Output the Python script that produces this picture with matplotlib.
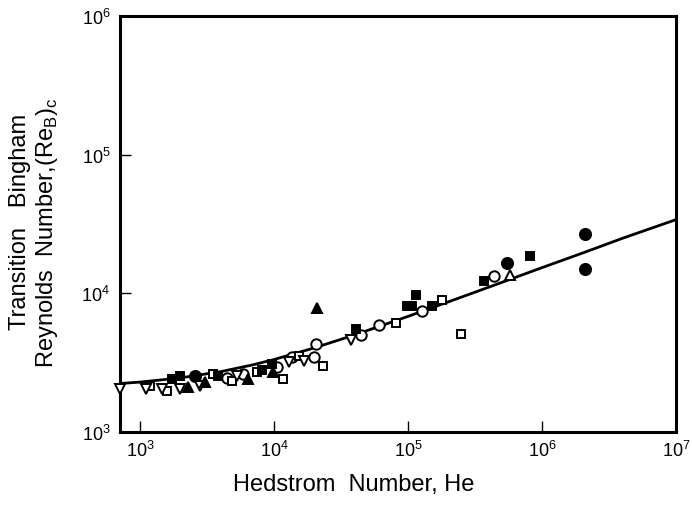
import matplotlib
matplotlib.use("Agg")
import matplotlib.pyplot as plt

plt.rcParams["font.family"] = ["Liberation Sans", "DejaVu Sans"]
plt.rcParams["mathtext.fontset"] = "custom"
plt.rcParams["mathtext.rm"] = "Liberation Sans"

# Transition curve, Hedstrom number vs critical Bingham Reynolds number
curve_he = [710, 1e3, 2e3, 4e3, 7e3, 1e4, 2e4, 4e4, 1e5, 2e5, 4e5, 1e6, 2e6, 4e6, 1e7]
curve_re = [2236, 2290, 2454, 2724, 3053, 3330, 4042, 5011, 6817, 8675, 11069, 15314, 19497, 24965, 34006]

# Experimental points, grouped by symbol
open_circle_he = [4430, 5830, 10600, 13700, 19900, 20700, 44600, 60700, 127000, 442000]
open_circle_re = [2450, 2620, 2940, 3470, 3470, 4310, 5000, 5900, 7450, 13330]

filled_circle_he = [2565, 546000, 2.1e6, 2.1e6]
filled_circle_re = [2530, 16500, 26800, 14960]

open_square_he = [1187, 1587, 3490, 4830, 7420, 11600, 15400, 23400, 81000, 178000, 249000]
open_square_re = [2150, 1975, 2620, 2330, 2710, 2410, 3530, 2990, 6100, 8950, 5100]

filled_square_he = [1730, 1983, 3800, 8200, 9600, 41000, 98000, 107000, 114000, 150000, 367000, 807000]
filled_square_re = [2410, 2530, 2530, 2800, 3090, 5530, 8100, 8100, 9730, 8100, 12270, 18580]

open_dtri_he = [710, 1108, 1458, 1983, 2795, 5270, 13000, 16800, 37500]
open_dtri_re = [2050, 2040, 2040, 2040, 2150, 2530, 3200, 3250, 4600]

filled_tri_he = [2275, 3040, 6350, 9770, 21000]
filled_tri_re = [2110, 2290, 2410, 2710, 7840]

open_tri_he = [580000]
open_tri_re = [13660]

fig = plt.figure(figsize=(6.92, 5.06), dpi=100)
ax = fig.add_axes([0.1734, 0.1443, 0.8035, 0.8221])

ax.plot(curve_he, curve_re, color="black", lw=2.0, zorder=2)

common = dict(ls="none", mec="black", mew=1.4, zorder=3, clip_on=False)
ax.plot(open_circle_he, open_circle_re, marker="o", ms=7.5, mfc="white", **common)
ax.plot(filled_circle_he, filled_circle_re, marker="o", ms=8, mfc="black", **common)
ax.plot(open_square_he, open_square_re, marker="s", ms=5.8, mfc="white", **common)
ax.plot(filled_square_he, filled_square_re, marker="s", ms=5.8, mfc="black", **common)
ax.plot(open_dtri_he, open_dtri_re, marker="v", ms=7, mfc="white", **common)
ax.plot(filled_tri_he, filled_tri_re, marker="^", ms=7, mfc="black", **common)
ax.plot(open_tri_he, open_tri_re, marker="^", ms=7, mfc="white", **common)

ax.set_xscale("log")
ax.set_yscale("log")
ax.set_xlim(710, 1e7)
ax.set_ylim(1e3, 1e6)

xt = [1e3, 1e4, 1e5, 1e6, 1e7]
yt = [1e3, 1e4, 1e5, 1e6]
ax.set_xticks(xt)
ax.set_xticklabels([r"$\mathregular{10^{%d}}$" % k for k in (3, 4, 5, 6, 7)])
ax.set_yticks(yt)
ax.set_yticklabels([r"$\mathregular{10^{%d}}$" % k for k in (3, 4, 5, 6)])
ax.minorticks_off()
ax.tick_params(direction="in", length=8, width=1.0, labelsize=13)
ax.tick_params(axis="x", pad=6)
ax.tick_params(axis="y", pad=7)

for s in ax.spines.values():
    s.set_linewidth(2.2)

fig.text(354 / 692, 1 - 485 / 506, "Hedstrom  Number, He", fontsize=17,
         ha="center", va="center")
fig.text(20 / 692, 1 - 222 / 506, "Transition   Bingham", rotation=90, fontsize=17,
         ha="center", va="center")
fig.text(47 / 692, 1 - 233 / 506,
         r"Reynolds  Number,(Re$_\mathregular{B}$)$_\mathregular{c}$",
         rotation=90, fontsize=17, ha="center", va="center")

fig.savefig("out.png", dpi=100)
